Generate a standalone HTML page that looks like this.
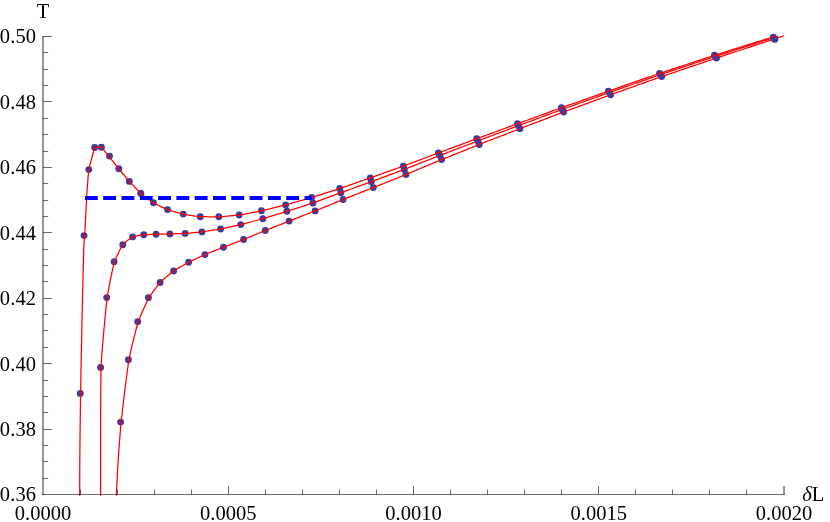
<!DOCTYPE html>
<html><head><meta charset="utf-8"><title>T vs δL</title>
<style>html,body{margin:0;padding:0;background:#fff;}body{width:830px;height:522px;overflow:hidden;position:relative;font-family:"Liberation Serif",serif;}</style></head>
<body>
<svg width="830" height="522" viewBox="0 0 830 522" style="display:block">
<rect width="830" height="522" fill="#fff"/>
<g fill="#3d3d99"><circle cx="120.60" cy="422.10" r="3.45"/><circle cx="128.40" cy="359.80" r="3.45"/><circle cx="137.70" cy="321.80" r="3.45"/><circle cx="148.40" cy="297.70" r="3.45"/><circle cx="160.10" cy="282.50" r="3.45"/><circle cx="173.60" cy="271.00" r="3.45"/><circle cx="188.60" cy="262.30" r="3.45"/><circle cx="204.90" cy="254.60" r="3.45"/><circle cx="223.50" cy="247.20" r="3.45"/><circle cx="243.60" cy="239.50" r="3.45"/><circle cx="265.30" cy="230.50" r="3.45"/><circle cx="289.10" cy="221.10" r="3.45"/><circle cx="315.10" cy="210.90" r="3.45"/><circle cx="343.10" cy="199.50" r="3.45"/><circle cx="373.30" cy="187.60" r="3.45"/><circle cx="406.00" cy="174.50" r="3.45"/><circle cx="441.60" cy="159.61" r="3.45"/><circle cx="479.20" cy="144.54" r="3.45"/><circle cx="519.90" cy="128.67" r="3.45"/><circle cx="563.60" cy="112.03" r="3.45"/><circle cx="610.60" cy="94.83" r="3.45"/><circle cx="661.70" cy="76.62" r="3.45"/><circle cx="716.50" cy="58.01" r="3.45"/><circle cx="774.80" cy="39.40" r="3.45"/></g>
<path d="M116.30,495.80 L116.42,493.36 L116.54,490.93 L116.66,488.52 L116.78,486.13 L116.90,483.74 L117.02,481.38 L117.15,479.02 L117.27,476.68 L117.39,474.36 L117.52,472.05 L117.64,469.76 L117.77,467.48 L117.89,465.22 L118.02,462.97 L118.14,460.74 L118.27,458.52 L118.30,458.00 L118.40,456.52 L118.54,454.58 L118.68,452.65 L118.82,450.73 L118.96,448.83 L119.11,446.94 L119.25,445.06 L119.39,443.21 L119.53,441.38 L119.67,439.57 L119.81,437.79 L119.94,436.03 L120.08,434.31 L120.10,434.00 L120.19,432.88 L120.30,431.57 L120.40,430.31 L120.51,429.07 L120.61,427.84 L120.71,426.59 L120.82,425.31 L120.94,423.96 L121.06,422.55 L121.10,422.10 L121.30,420.38 L121.59,417.83 L121.90,415.16 L122.22,412.40 L122.55,409.55 L122.89,406.62 L123.25,403.63 L123.61,400.58 L123.98,397.48 L124.36,394.35 L124.75,391.19 L125.14,388.01 L125.54,384.83 L125.94,381.66 L126.35,378.49 L126.76,375.36 L127.17,372.25 L127.58,369.20 L127.99,366.19 L128.40,363.26 L128.81,360.40 L128.90,359.80 L129.31,357.89 L129.83,355.48 L130.36,353.08 L130.89,350.70 L131.43,348.34 L131.98,345.98 L132.53,343.65 L133.09,341.33 L133.66,339.03 L134.23,336.74 L134.81,334.47 L135.39,332.21 L135.97,329.97 L136.57,327.75 L137.16,325.55 L137.77,323.36 L138.20,321.80 L138.41,321.27 L139.15,319.40 L139.90,317.55 L140.66,315.70 L141.43,313.88 L142.21,312.06 L143.00,310.26 L143.79,308.48 L144.59,306.71 L145.40,304.96 L146.21,303.23 L147.03,301.52 L147.85,299.82 L148.68,298.15 L148.90,297.70 L149.58,296.67 L150.52,295.28 L151.47,293.91 L152.43,292.55 L153.39,291.21 L154.36,289.88 L155.34,288.56 L156.33,287.26 L157.33,285.97 L158.33,284.69 L159.35,283.42 L160.10,282.50 L160.41,282.21 L161.57,281.13 L162.75,280.05 L163.95,278.99 L165.15,277.93 L166.37,276.89 L167.59,275.85 L168.82,274.83 L170.06,273.82 L171.30,272.82 L172.54,271.83 L173.60,271.00 L173.80,270.87 L175.14,270.04 L176.48,269.22 L177.83,268.41 L179.19,267.61 L180.55,266.82 L181.92,266.04 L183.30,265.26 L184.68,264.48 L186.06,263.71 L187.44,262.94 L188.60,262.30 L188.83,262.19 L190.27,261.48 L191.71,260.78 L193.15,260.08 L194.60,259.39 L196.05,258.70 L197.50,258.02 L198.96,257.33 L200.42,256.65 L201.89,255.98 L203.36,255.30 L204.84,254.63 L204.90,254.60 L206.38,253.99 L207.94,253.36 L209.50,252.72 L211.07,252.10 L212.64,251.47 L214.22,250.85 L215.80,250.22 L217.39,249.60 L218.97,248.98 L220.56,248.36 L222.15,247.73 L223.50,247.20 L223.74,247.11 L225.37,246.48 L227.00,245.85 L228.64,245.23 L230.28,244.61 L231.91,243.98 L233.56,243.36 L235.20,242.73 L236.85,242.10 L238.49,241.47 L240.14,240.84 L241.79,240.20 L243.45,239.56 L243.60,239.50 L245.13,238.88 L246.81,238.18 L248.50,237.49 L250.19,236.78 L251.88,236.08 L253.57,235.37 L255.27,234.67 L256.97,233.96 L258.67,233.25 L260.37,232.54 L262.08,231.83 L263.79,231.12 L265.30,230.50 L265.51,230.42 L267.27,229.71 L269.04,229.01 L270.81,228.31 L272.58,227.61 L274.36,226.90 L276.14,226.20 L277.93,225.50 L279.71,224.80 L281.50,224.09 L283.29,223.39 L285.09,222.68 L286.88,221.97 L288.68,221.27 L289.10,221.10 L290.52,220.54 L292.37,219.82 L294.22,219.09 L296.08,218.37 L297.93,217.64 L299.79,216.91 L301.66,216.18 L303.52,215.45 L305.39,214.72 L307.26,213.99 L309.14,213.25 L311.01,212.51 L312.89,211.77 L314.76,211.03 L315.10,210.90 L316.67,210.26 L318.59,209.49 L320.51,208.71 L322.43,207.93 L324.35,207.14 L326.28,206.35 L328.20,205.57 L330.13,204.78 L332.07,203.99 L334.00,203.20 L335.94,202.41 L337.87,201.62 L339.82,200.83 L341.76,200.04 L343.10,199.50 L343.72,199.25 L345.71,198.46 L347.71,197.68 L349.70,196.89 L351.70,196.10 L353.71,195.31 L355.71,194.52 L357.72,193.73 L359.73,192.94 L361.74,192.15 L363.75,191.36 L365.77,190.57 L367.79,189.77 L369.81,188.98 L371.83,188.18 L373.30,187.60 L373.87,187.37 L375.94,186.55 L378.02,185.72 L380.09,184.89 L382.17,184.06 L384.25,183.23 L386.33,182.40 L388.42,181.56 L390.51,180.73 L392.60,179.89 L394.69,179.05 L396.78,178.21 L398.88,177.37 L400.98,176.53 L403.08,175.68 L405.19,174.83 L406.00,174.50 L407.32,173.95 L409.48,173.06 L411.64,172.16 L413.80,171.25 L415.96,170.35 L418.13,169.44 L420.29,168.53 L422.46,167.62 L424.64,166.70 L426.81,165.79 L428.99,164.88 L431.17,163.96 L433.35,163.05 L435.53,162.14 L437.71,161.23 L439.90,160.32 L441.60,159.61 L442.09,159.41 L444.32,158.51 L446.54,157.62 L448.77,156.72 L451.00,155.82 L453.23,154.92 L455.46,154.03 L457.69,153.13 L459.93,152.24 L462.17,151.34 L464.41,150.45 L466.65,149.55 L468.89,148.65 L471.14,147.76 L473.39,146.86 L475.65,145.96 L477.90,145.06 L479.20,144.54 L480.18,144.16 L482.50,143.25 L484.81,142.34 L487.13,141.44 L489.46,140.53 L491.78,139.62 L494.11,138.71 L496.44,137.80 L498.77,136.89 L501.10,135.98 L503.44,135.07 L505.78,134.16 L508.12,133.25 L510.47,132.34 L512.81,131.42 L515.16,130.51 L517.51,129.60 L519.86,128.69 L519.90,128.67 L522.26,127.77 L524.67,126.85 L527.07,125.93 L529.48,125.00 L531.89,124.08 L534.31,123.16 L536.72,122.24 L539.14,121.32 L541.56,120.39 L543.98,119.47 L546.41,118.55 L548.84,117.62 L551.26,116.70 L553.70,115.78 L556.13,114.85 L558.57,113.93 L561.01,113.01 L563.45,112.09 L563.60,112.03 L565.94,111.17 L568.44,110.25 L570.94,109.32 L573.44,108.40 L575.95,107.48 L578.46,106.56 L580.97,105.64 L583.48,104.72 L585.99,103.80 L588.51,102.88 L591.03,101.96 L593.55,101.04 L596.08,100.12 L598.60,99.20 L601.13,98.28 L603.67,97.35 L606.20,96.43 L608.74,95.51 L610.60,94.83 L611.30,94.58 L613.90,93.65 L616.51,92.71 L619.12,91.77 L621.74,90.84 L624.36,89.90 L626.98,88.96 L629.60,88.03 L632.22,87.09 L634.85,86.15 L637.48,85.21 L640.11,84.27 L642.75,83.33 L645.38,82.39 L648.02,81.46 L650.67,80.52 L653.31,79.58 L655.96,78.64 L658.60,77.71 L661.25,76.77 L661.70,76.62 L663.95,75.84 L666.66,74.91 L669.37,73.99 L672.09,73.06 L674.81,72.13 L677.53,71.20 L680.25,70.28 L682.97,69.35 L685.70,68.42 L688.43,67.50 L691.16,66.57 L693.89,65.65 L696.63,64.72 L699.37,63.79 L702.11,62.87 L704.85,61.94 L707.59,61.02 L710.33,60.09 L713.08,59.16 L715.83,58.24 L716.50,58.01 L718.63,57.31 L721.50,56.36 L724.42,55.40 L727.38,54.43 L730.36,53.45 L733.37,52.46 L736.38,51.47 L739.40,50.48 L742.42,49.50 L745.42,48.51 L748.39,47.54 L751.34,46.58 L754.24,45.62 L757.10,44.69 L759.90,43.77 L762.63,42.88 L765.29,42.01 L767.86,41.16 L770.34,40.35 L772.72,39.57 L774.80,38.88 L774.91,38.85 L776.16,38.43 L777.38,38.02 L778.56,37.63 L779.69,37.25 L780.78,36.88 L781.81,36.54 L782.79,36.21 L783.70,35.90" fill="none" stroke="#ff0000" stroke-width="1.25" stroke-linejoin="round"/>
<g fill="#3d3d99"><circle cx="100.60" cy="367.50" r="3.45"/><circle cx="106.70" cy="297.60" r="3.45"/><circle cx="114.10" cy="261.70" r="3.45"/><circle cx="122.80" cy="244.70" r="3.45"/><circle cx="132.60" cy="236.90" r="3.45"/><circle cx="143.80" cy="234.80" r="3.45"/><circle cx="156.10" cy="234.20" r="3.45"/><circle cx="169.90" cy="233.90" r="3.45"/><circle cx="185.10" cy="233.40" r="3.45"/><circle cx="201.90" cy="231.90" r="3.45"/><circle cx="220.60" cy="229.00" r="3.45"/><circle cx="240.70" cy="224.60" r="3.45"/><circle cx="262.80" cy="218.70" r="3.45"/><circle cx="286.90" cy="211.30" r="3.45"/><circle cx="312.90" cy="203.00" r="3.45"/><circle cx="340.90" cy="192.70" r="3.45"/><circle cx="371.30" cy="181.70" r="3.45"/><circle cx="404.30" cy="169.40" r="3.45"/><circle cx="439.88" cy="155.47" r="3.45"/><circle cx="477.88" cy="140.94" r="3.45"/><circle cx="518.56" cy="125.63" r="3.45"/><circle cx="562.38" cy="109.38" r="3.45"/><circle cx="609.38" cy="92.54" r="3.45"/><circle cx="660.50" cy="74.62" r="3.45"/><circle cx="715.39" cy="56.33" r="3.45"/><circle cx="774.00" cy="38.35" r="3.45"/></g>
<path d="M100.60,495.80 L100.60,492.71 L100.60,489.63 L100.60,486.57 L100.60,483.52 L100.60,480.47 L100.60,477.44 L100.60,474.43 L100.60,471.42 L100.60,468.43 L100.60,465.44 L100.60,462.47 L100.60,459.52 L100.60,456.57 L100.60,453.64 L100.60,450.72 L100.60,447.81 L100.60,444.91 L100.60,442.03 L100.60,440.00 L100.60,439.23 L100.60,436.62 L100.61,434.03 L100.61,431.46 L100.62,428.89 L100.62,426.34 L100.63,423.80 L100.64,421.27 L100.64,418.75 L100.65,416.24 L100.66,413.74 L100.67,411.25 L100.67,408.76 L100.68,406.28 L100.69,403.81 L100.70,401.34 L100.70,400.00 L100.71,398.94 L100.72,396.64 L100.74,394.38 L100.76,392.14 L100.78,389.91 L100.79,387.70 L100.81,385.48 L100.83,383.27 L100.86,381.04 L100.88,378.79 L100.90,376.52 L100.93,374.22 L100.95,371.88 L100.98,369.49 L101.00,367.50 L101.03,366.95 L101.22,363.86 L101.43,360.70 L101.65,357.47 L101.89,354.18 L102.14,350.85 L102.40,347.47 L102.68,344.06 L102.96,340.62 L103.26,337.16 L103.56,333.70 L103.87,330.22 L104.19,326.75 L104.52,323.30 L104.84,319.86 L105.18,316.45 L105.51,313.07 L105.84,309.74 L106.18,306.45 L106.51,303.22 L106.84,300.06 L107.10,297.60 L107.19,297.08 L107.63,294.55 L108.08,292.04 L108.53,289.55 L108.99,287.08 L109.46,284.62 L109.94,282.20 L110.42,279.79 L110.91,277.41 L111.41,275.06 L111.91,272.73 L112.42,270.44 L112.93,268.18 L113.46,265.95 L113.99,263.76 L114.50,261.70 L114.53,261.62 L115.23,259.93 L115.94,258.26 L116.67,256.61 L117.41,254.98 L118.16,253.38 L118.92,251.80 L119.70,250.26 L120.49,248.76 L121.29,247.29 L122.10,245.87 L122.80,244.70 L122.96,244.55 L123.99,243.56 L125.05,242.59 L126.14,241.62 L127.24,240.69 L128.36,239.79 L129.50,238.93 L130.64,238.13 L131.79,237.38 L132.60,236.90 L132.97,236.81 L134.26,236.51 L135.56,236.23 L136.88,235.96 L138.21,235.70 L139.55,235.46 L140.90,235.24 L142.24,235.03 L143.58,234.83 L143.80,234.80 L144.96,234.73 L146.35,234.65 L147.74,234.58 L149.14,234.51 L150.53,234.44 L151.94,234.38 L153.35,234.31 L154.76,234.25 L156.10,234.20 L156.18,234.20 L157.64,234.16 L159.11,234.13 L160.59,234.10 L162.07,234.07 L163.55,234.04 L165.04,234.01 L166.53,233.97 L168.03,233.94 L169.52,233.91 L169.90,233.90 L171.05,233.87 L172.60,233.82 L174.14,233.77 L175.70,233.73 L177.25,233.68 L178.81,233.63 L180.37,233.57 L181.93,233.52 L183.50,233.46 L185.07,233.40 L185.10,233.40 L186.69,233.28 L188.31,233.16 L189.93,233.02 L191.56,232.88 L193.19,232.74 L194.83,232.59 L196.47,232.43 L198.11,232.27 L199.75,232.11 L201.40,231.95 L201.90,231.90 L203.09,231.74 L204.79,231.50 L206.50,231.25 L208.21,230.99 L209.92,230.73 L211.64,230.46 L213.36,230.19 L215.09,229.91 L216.81,229.63 L218.54,229.34 L220.26,229.06 L220.60,229.00 L222.02,228.71 L223.78,228.35 L225.54,227.98 L227.30,227.60 L229.07,227.21 L230.83,226.83 L232.60,226.43 L234.38,226.04 L236.15,225.64 L237.93,225.23 L239.71,224.83 L240.70,224.60 L241.52,224.39 L243.35,223.92 L245.18,223.44 L247.02,222.96 L248.86,222.48 L250.70,221.99 L252.55,221.49 L254.40,220.99 L256.25,220.49 L258.10,219.99 L259.96,219.48 L261.82,218.97 L262.80,218.70 L263.70,218.43 L265.60,217.86 L267.50,217.29 L269.41,216.71 L271.32,216.12 L273.24,215.53 L275.15,214.94 L277.07,214.35 L278.99,213.75 L280.92,213.16 L282.84,212.56 L284.77,211.96 L286.70,211.36 L286.90,211.30 L288.67,210.74 L290.65,210.12 L292.62,209.49 L294.60,208.87 L296.59,208.24 L298.57,207.61 L300.56,206.98 L302.55,206.35 L304.54,205.71 L306.54,205.07 L308.53,204.43 L310.53,203.78 L312.53,203.12 L312.90,203.00 L314.56,202.41 L316.59,201.67 L318.63,200.93 L320.67,200.19 L322.71,199.44 L324.75,198.68 L326.80,197.92 L328.84,197.16 L330.89,196.40 L332.95,195.64 L335.00,194.88 L337.06,194.11 L339.12,193.35 L340.90,192.70 L341.19,192.59 L343.31,191.83 L345.43,191.06 L347.55,190.29 L349.68,189.52 L351.81,188.75 L353.94,187.98 L356.07,187.21 L358.21,186.44 L360.35,185.67 L362.49,184.90 L364.64,184.12 L366.78,183.34 L368.93,182.56 L371.09,181.78 L371.30,181.70 L373.28,180.97 L375.49,180.15 L377.70,179.33 L379.91,178.51 L382.12,177.69 L384.34,176.87 L386.56,176.04 L388.78,175.21 L391.00,174.38 L393.23,173.55 L395.45,172.72 L397.69,171.89 L399.92,171.05 L402.15,170.21 L404.30,169.40 L404.39,169.36 L406.67,168.48 L408.96,167.59 L411.24,166.70 L413.53,165.80 L415.82,164.90 L418.12,164.00 L420.41,163.10 L422.71,162.20 L425.01,161.29 L427.31,160.39 L429.62,159.48 L431.93,158.58 L434.24,157.67 L436.55,156.77 L438.86,155.86 L439.88,155.47 L441.20,154.96 L443.57,154.05 L445.93,153.14 L448.30,152.23 L450.67,151.33 L453.04,150.42 L455.42,149.51 L457.79,148.60 L460.17,147.69 L462.56,146.78 L464.94,145.87 L467.33,144.96 L469.72,144.05 L472.11,143.14 L474.50,142.23 L476.90,141.31 L477.88,140.94 L479.32,140.40 L481.77,139.47 L484.22,138.55 L486.67,137.62 L489.12,136.70 L491.58,135.77 L494.04,134.85 L496.50,133.92 L498.96,132.99 L501.43,132.06 L503.90,131.14 L506.37,130.21 L508.84,129.28 L511.32,128.35 L513.80,127.42 L516.28,126.48 L518.56,125.63 L518.77,125.55 L521.30,124.61 L523.85,123.66 L526.39,122.71 L528.94,121.77 L531.49,120.82 L534.04,119.87 L536.59,118.92 L539.15,117.97 L541.71,117.02 L544.27,116.07 L546.84,115.12 L549.41,114.17 L551.98,113.22 L554.55,112.27 L557.12,111.32 L559.70,110.37 L562.28,109.42 L562.38,109.38 L564.91,108.46 L567.55,107.51 L570.19,106.56 L572.83,105.61 L575.48,104.66 L578.12,103.71 L580.77,102.76 L583.42,101.81 L586.08,100.86 L588.74,99.91 L591.40,98.96 L594.06,98.01 L596.72,97.06 L599.39,96.11 L602.07,95.15 L604.74,94.20 L607.42,93.24 L609.38,92.54 L610.12,92.28 L612.87,91.32 L615.62,90.35 L618.37,89.37 L621.13,88.40 L623.89,87.43 L626.66,86.46 L629.43,85.48 L632.20,84.51 L634.97,83.53 L637.75,82.56 L640.52,81.58 L643.31,80.61 L646.09,79.63 L648.88,78.66 L651.67,77.69 L654.46,76.72 L657.25,75.74 L660.05,74.77 L660.50,74.62 L662.89,73.81 L665.76,72.85 L668.62,71.88 L671.49,70.92 L674.35,69.96 L677.23,69.00 L680.10,68.04 L682.98,67.08 L685.86,66.12 L688.74,65.16 L691.62,64.20 L694.51,63.24 L697.40,62.28 L700.29,61.32 L703.18,60.36 L706.08,59.40 L708.98,58.44 L711.88,57.49 L714.78,56.53 L715.39,56.33 L717.76,55.56 L720.82,54.58 L723.95,53.57 L727.14,52.55 L730.36,51.52 L733.61,50.48 L736.88,49.44 L740.14,48.40 L743.38,47.37 L746.60,46.34 L749.78,45.33 L752.90,44.34 L755.96,43.37 L758.93,42.42 L761.81,41.50 L764.58,40.62 L767.23,39.78 L769.74,38.97 L772.10,38.22 L773.97,37.62 L774.12,37.57 L775.02,37.28 L775.87,37.00 L776.66,36.74 L777.38,36.51 L778.00,36.30" fill="none" stroke="#ff0000" stroke-width="1.25" stroke-linejoin="round"/>
<g fill="#3d3d99"><circle cx="80.30" cy="393.40" r="3.45"/><circle cx="84.05" cy="235.60" r="3.45"/><circle cx="88.80" cy="169.60" r="3.45"/><circle cx="94.70" cy="147.50" r="3.45"/><circle cx="101.40" cy="147.20" r="3.45"/><circle cx="109.50" cy="156.10" r="3.45"/><circle cx="118.80" cy="168.80" r="3.45"/><circle cx="129.30" cy="181.40" r="3.45"/><circle cx="140.70" cy="193.20" r="3.45"/><circle cx="153.40" cy="202.80" r="3.45"/><circle cx="167.50" cy="209.60" r="3.45"/><circle cx="183.20" cy="214.10" r="3.45"/><circle cx="200.20" cy="216.70" r="3.45"/><circle cx="218.80" cy="216.80" r="3.45"/><circle cx="239.20" cy="215.00" r="3.45"/><circle cx="261.40" cy="210.80" r="3.45"/><circle cx="285.60" cy="204.90" r="3.45"/><circle cx="311.60" cy="197.40" r="3.45"/><circle cx="339.70" cy="188.50" r="3.45"/><circle cx="370.30" cy="177.90" r="3.45"/><circle cx="403.30" cy="166.10" r="3.45"/><circle cx="438.47" cy="152.89" r="3.45"/><circle cx="476.80" cy="138.70" r="3.45"/><circle cx="517.47" cy="123.75" r="3.45"/><circle cx="561.38" cy="107.75" r="3.45"/><circle cx="608.38" cy="91.15" r="3.45"/><circle cx="659.52" cy="73.40" r="3.45"/><circle cx="714.48" cy="55.30" r="3.45"/><circle cx="773.30" cy="37.25" r="3.45"/></g>
<path d="M79.70,495.80 L79.71,492.17 L79.71,488.49 L79.72,484.76 L79.73,480.99 L79.74,477.17 L79.75,473.31 L79.76,469.40 L79.78,465.44 L79.79,461.44 L79.80,458.00 L79.81,457.31 L79.85,452.49 L79.90,447.52 L79.96,442.43 L80.02,437.26 L80.09,432.03 L80.15,426.79 L80.22,421.55 L80.29,416.36 L80.36,411.25 L80.43,406.25 L80.49,401.39 L80.56,396.71 L80.60,393.40 L80.61,392.53 L80.67,389.37 L80.72,386.37 L80.76,383.48 L80.81,380.61 L80.86,377.72 L80.92,374.74 L80.97,371.60 L81.00,370.00 L81.05,367.61 L81.14,362.80 L81.24,357.79 L81.35,352.62 L81.46,347.33 L81.57,341.92 L81.68,336.45 L81.80,330.93 L81.91,325.39 L82.03,319.87 L82.15,314.38 L82.26,308.96 L82.38,303.64 L82.49,298.45 L82.50,298.00 L82.61,293.68 L82.72,288.88 L82.84,284.04 L82.96,279.19 L83.07,274.37 L83.19,269.61 L83.31,264.94 L83.43,260.40 L83.55,256.01 L83.68,251.82 L83.80,247.84 L83.90,245.00 L83.94,244.47 L84.09,242.47 L84.25,240.64 L84.41,238.85 L84.58,236.96 L84.70,235.50 L84.76,234.52 L84.95,230.99 L85.15,227.23 L85.35,223.28 L85.56,219.19 L85.77,215.02 L85.97,210.82 L86.18,206.63 L86.40,202.51 L86.61,198.50 L86.80,195.00 L86.82,194.71 L87.05,191.43 L87.28,188.20 L87.51,185.00 L87.75,181.84 L87.98,178.72 L88.22,175.64 L88.46,172.60 L88.70,169.60 L94.60,147.50 L101.50,147.10 L118.70,168.60 L118.70,168.60 L119.48,169.58 L120.27,170.55 L121.06,171.52 L121.85,172.49 L122.64,173.46 L123.43,174.42 L124.23,175.39 L125.03,176.35 L125.83,177.30 L126.63,178.26 L127.44,179.21 L128.24,180.16 L129.05,181.11 L129.30,181.40 L129.89,182.03 L130.74,182.94 L131.59,183.85 L132.44,184.75 L133.29,185.66 L134.15,186.56 L135.01,187.46 L135.87,188.36 L136.73,189.25 L137.60,190.14 L138.48,191.01 L139.35,191.89 L140.23,192.75 L140.70,193.20 L141.15,193.56 L142.10,194.33 L143.06,195.10 L144.02,195.86 L144.99,196.61 L145.96,197.37 L146.93,198.11 L147.91,198.85 L148.89,199.59 L149.87,200.31 L150.86,201.02 L151.85,201.73 L152.85,202.42 L153.40,202.80 L153.88,203.05 L154.95,203.62 L156.02,204.17 L157.10,204.72 L158.19,205.27 L159.27,205.81 L160.36,206.34 L161.46,206.87 L162.56,207.39 L163.66,207.90 L164.77,208.40 L165.87,208.89 L166.98,209.38 L167.50,209.60 L168.13,209.80 L169.30,210.17 L170.48,210.54 L171.66,210.90 L172.84,211.26 L174.03,211.61 L175.22,211.95 L176.41,212.30 L177.61,212.63 L178.81,212.96 L180.01,213.28 L181.21,213.60 L182.41,213.90 L183.20,214.10 L183.63,214.18 L184.87,214.39 L186.12,214.62 L187.36,214.84 L188.61,215.06 L189.87,215.28 L191.12,215.49 L192.38,215.69 L193.64,215.89 L194.90,216.08 L196.16,216.25 L197.42,216.41 L198.69,216.55 L199.96,216.68 L200.20,216.70 L201.26,216.71 L202.57,216.72 L203.88,216.73 L205.19,216.74 L206.51,216.74 L207.83,216.75 L209.15,216.76 L210.47,216.77 L211.80,216.77 L213.12,216.78 L214.45,216.78 L215.78,216.79 L217.11,216.79 L218.45,216.80 L218.80,216.80 L219.80,216.75 L221.17,216.67 L222.55,216.57 L223.92,216.47 L225.30,216.36 L226.68,216.25 L228.05,216.12 L229.44,215.99 L230.82,215.86 L232.20,215.72 L233.59,215.58 L234.98,215.44 L236.37,215.29 L237.76,215.15 L239.15,215.01 L239.20,215.00 L240.57,214.78 L241.99,214.54 L243.41,214.30 L244.84,214.04 L246.26,213.78 L247.69,213.52 L249.12,213.24 L250.55,212.97 L251.98,212.69 L253.42,212.40 L254.85,212.12 L256.29,211.83 L257.72,211.54 L259.16,211.25 L260.61,210.96 L261.40,210.80 L262.06,210.65 L263.54,210.31 L265.01,209.96 L266.49,209.61 L267.97,209.26 L269.45,208.90 L270.94,208.54 L272.42,208.18 L273.91,207.82 L275.39,207.45 L276.88,207.09 L278.37,206.72 L279.86,206.34 L281.36,205.97 L282.85,205.59 L284.34,205.22 L285.60,204.90 L285.84,204.83 L287.36,204.41 L288.89,203.98 L290.41,203.55 L291.94,203.12 L293.46,202.68 L294.99,202.25 L296.52,201.81 L298.05,201.36 L299.58,200.92 L301.11,200.48 L302.65,200.03 L304.18,199.58 L305.72,199.13 L307.26,198.68 L308.80,198.23 L310.34,197.77 L311.60,197.40 L311.88,197.31 L313.46,196.82 L315.03,196.33 L316.61,195.84 L318.19,195.35 L319.77,194.85 L321.35,194.35 L322.93,193.86 L324.52,193.35 L326.10,192.85 L327.69,192.35 L329.28,191.84 L330.87,191.34 L332.46,190.83 L334.05,190.32 L335.64,189.81 L337.24,189.29 L338.84,188.78 L339.70,188.50 L340.45,188.24 L342.09,187.69 L343.72,187.13 L345.36,186.57 L347.00,186.00 L348.64,185.44 L350.29,184.87 L351.93,184.30 L353.58,183.73 L355.22,183.16 L356.87,182.59 L358.52,182.01 L360.17,181.43 L361.83,180.86 L363.48,180.28 L365.14,179.70 L366.79,179.12 L368.45,178.54 L370.11,177.97 L370.30,177.90 L371.80,177.37 L373.50,176.76 L375.20,176.16 L376.90,175.56 L378.60,174.95 L380.30,174.34 L382.00,173.74 L383.71,173.13 L385.42,172.52 L387.13,171.91 L388.84,171.30 L390.55,170.69 L392.26,170.07 L393.97,169.46 L395.68,168.84 L397.40,168.23 L399.12,167.61 L400.83,166.99 L402.55,166.37 L403.30,166.10 L404.29,165.73 L406.03,165.08 L407.78,164.43 L409.53,163.78 L411.28,163.12 L413.03,162.46 L414.78,161.81 L416.53,161.15 L418.29,160.49 L420.04,159.83 L421.80,159.16 L423.56,158.50 L425.32,157.84 L427.08,157.17 L428.84,156.51 L430.61,155.84 L432.37,155.18 L434.14,154.51 L435.91,153.85 L437.69,153.18 L438.47,152.89 L439.49,152.51 L441.31,151.84 L443.13,151.16 L444.96,150.48 L446.78,149.81 L448.61,149.13 L450.44,148.45 L452.28,147.77 L454.11,147.09 L455.95,146.41 L457.79,145.73 L459.63,145.05 L461.47,144.37 L463.31,143.69 L465.15,143.01 L467.00,142.32 L468.84,141.64 L470.69,140.96 L472.53,140.28 L474.38,139.59 L476.23,138.91 L476.80,138.70 L478.10,138.22 L479.98,137.53 L481.87,136.84 L483.75,136.14 L485.63,135.45 L487.52,134.76 L489.40,134.06 L491.29,133.37 L493.18,132.67 L495.07,131.98 L496.96,131.28 L498.85,130.59 L500.75,129.89 L502.64,129.19 L504.54,128.50 L506.44,127.80 L508.34,127.10 L510.24,126.40 L512.14,125.70 L514.05,125.00 L515.96,124.31 L517.47,123.75 L517.87,123.60 L519.83,122.89 L521.78,122.18 L523.74,121.46 L525.69,120.75 L527.65,120.03 L529.61,119.32 L531.57,118.60 L533.53,117.88 L535.50,117.16 L537.47,116.45 L539.43,115.73 L541.40,115.01 L543.37,114.29 L545.34,113.57 L547.32,112.86 L549.29,112.14 L551.27,111.42 L553.25,110.70 L555.23,109.98 L557.21,109.26 L559.19,108.54 L561.17,107.83 L561.38,107.75 L563.19,107.11 L565.21,106.39 L567.24,105.67 L569.27,104.95 L571.30,104.23 L573.33,103.51 L575.36,102.79 L577.39,102.07 L579.42,101.35 L581.46,100.63 L583.50,99.92 L585.54,99.20 L587.58,98.48 L589.62,97.76 L591.66,97.04 L593.71,96.32 L595.75,95.59 L597.80,94.87 L599.85,94.15 L601.90,93.43 L603.96,92.71 L606.02,91.98 L608.07,91.26 L608.38,91.15 L610.18,90.52 L612.29,89.79 L614.40,89.05 L616.51,88.31 L618.63,87.58 L620.75,86.84 L622.87,86.10 L624.99,85.36 L627.12,84.62 L629.24,83.88 L631.37,83.14 L633.50,82.40 L635.63,81.66 L637.76,80.92 L639.90,80.17 L642.03,79.43 L644.17,78.69 L646.31,77.95 L648.45,77.21 L650.59,76.47 L652.73,75.73 L654.88,75.00 L657.02,74.26 L659.17,73.52 L659.52,73.40 L661.36,72.79 L663.55,72.06 L665.75,71.33 L667.95,70.60 L670.15,69.87 L672.36,69.13 L674.56,68.40 L676.77,67.68 L678.97,66.95 L681.18,66.22 L683.39,65.49 L685.61,64.76 L687.82,64.03 L690.04,63.30 L692.25,62.57 L694.47,61.84 L696.69,61.11 L698.91,60.39 L701.13,59.66 L703.36,58.93 L705.58,58.20 L707.81,57.48 L710.04,56.75 L712.27,56.02 L714.48,55.30 L714.50,55.29 L716.81,54.56 L719.17,53.82 L721.58,53.06 L724.04,52.28 L726.53,51.50 L729.04,50.71 L731.58,49.92 L734.13,49.12 L736.68,48.32 L739.23,47.53 L741.78,46.73 L744.30,45.95 L746.81,45.16 L749.28,44.39 L751.71,43.63 L754.10,42.89 L756.43,42.16 L758.71,41.45 L760.92,40.76 L763.05,40.09 L765.10,39.44 L767.06,38.83 L768.93,38.24 L770.69,37.68 L772.34,37.16 L773.30,36.85 L773.48,36.79 L773.93,36.63 L774.34,36.49 L774.70,36.36 L775.00,36.25" fill="none" stroke="#ff0000" stroke-width="1.25" stroke-linejoin="round"/>
<line x1="84.9" y1="198" x2="311.85" y2="198" stroke="#0000ff" stroke-width="4" stroke-dasharray="12.9 5.4"/>
<g stroke="#000" stroke-opacity="0.58" stroke-width="1" fill="none">
<line x1="43" y1="36.0" x2="43" y2="495.0" stroke-width="1.4"/>
<line x1="42" y1="494.5" x2="785.0" y2="494.5"/>
<line x1="43" y1="478.5" x2="48.2" y2="478.5"/>
<line x1="43" y1="461.5" x2="48.2" y2="461.5"/>
<line x1="43" y1="445.5" x2="48.2" y2="445.5"/>
<line x1="43" y1="429.5" x2="52.0" y2="429.5"/>
<line x1="43" y1="412.5" x2="48.2" y2="412.5"/>
<line x1="43" y1="396.5" x2="48.2" y2="396.5"/>
<line x1="43" y1="380.5" x2="48.2" y2="380.5"/>
<line x1="43" y1="363.5" x2="52.0" y2="363.5"/>
<line x1="43" y1="347.5" x2="48.2" y2="347.5"/>
<line x1="43" y1="330.5" x2="48.2" y2="330.5"/>
<line x1="43" y1="314.5" x2="48.2" y2="314.5"/>
<line x1="43" y1="298.5" x2="52.0" y2="298.5"/>
<line x1="43" y1="281.5" x2="48.2" y2="281.5"/>
<line x1="43" y1="265.5" x2="48.2" y2="265.5"/>
<line x1="43" y1="249.5" x2="48.2" y2="249.5"/>
<line x1="43" y1="232.5" x2="52.0" y2="232.5"/>
<line x1="43" y1="216.5" x2="48.2" y2="216.5"/>
<line x1="43" y1="200.5" x2="48.2" y2="200.5"/>
<line x1="43" y1="183.5" x2="48.2" y2="183.5"/>
<line x1="43" y1="167.5" x2="52.0" y2="167.5"/>
<line x1="43" y1="151.5" x2="48.2" y2="151.5"/>
<line x1="43" y1="134.5" x2="48.2" y2="134.5"/>
<line x1="43" y1="118.5" x2="48.2" y2="118.5"/>
<line x1="43" y1="101.5" x2="52.0" y2="101.5"/>
<line x1="43" y1="85.5" x2="48.2" y2="85.5"/>
<line x1="43" y1="69.5" x2="48.2" y2="69.5"/>
<line x1="43" y1="52.5" x2="48.2" y2="52.5"/>
<line x1="43" y1="36.5" x2="52.0" y2="36.5"/>
<line x1="80.5" y1="494.5" x2="80.5" y2="489.5"/>
<line x1="117.5" y1="494.5" x2="117.5" y2="489.5"/>
<line x1="154.5" y1="494.5" x2="154.5" y2="489.5"/>
<line x1="191.5" y1="494.5" x2="191.5" y2="489.5"/>
<line x1="228.5" y1="494.5" x2="228.5" y2="486.1"/>
<line x1="265.5" y1="494.5" x2="265.5" y2="489.5"/>
<line x1="302.5" y1="494.5" x2="302.5" y2="489.5"/>
<line x1="339.5" y1="494.5" x2="339.5" y2="489.5"/>
<line x1="376.5" y1="494.5" x2="376.5" y2="489.5"/>
<line x1="413.5" y1="494.5" x2="413.5" y2="486.1"/>
<line x1="450.5" y1="494.5" x2="450.5" y2="489.5"/>
<line x1="487.5" y1="494.5" x2="487.5" y2="489.5"/>
<line x1="524.5" y1="494.5" x2="524.5" y2="489.5"/>
<line x1="561.5" y1="494.5" x2="561.5" y2="489.5"/>
<line x1="598.5" y1="494.5" x2="598.5" y2="486.1"/>
<line x1="635.5" y1="494.5" x2="635.5" y2="489.5"/>
<line x1="672.5" y1="494.5" x2="672.5" y2="489.5"/>
<line x1="709.5" y1="494.5" x2="709.5" y2="489.5"/>
<line x1="746.5" y1="494.5" x2="746.5" y2="489.5"/>
<line x1="784.0" y1="494.5" x2="784.0" y2="486.1" stroke-width="1.4"/>
</g>
</svg>
<svg width="830" height="522" viewBox="0 0 830 522" style="position:absolute;left:0;top:0;will-change:transform">
<g font-family="'Liberation Serif', serif" font-size="20.5px" fill="#000">
<text x="36.3" y="501" text-anchor="end" letter-spacing="0.18">0.36</text>
<text x="36.3" y="436" text-anchor="end" letter-spacing="0.18">0.38</text>
<text x="36.3" y="371" text-anchor="end" letter-spacing="0.18">0.40</text>
<text x="36.3" y="305" text-anchor="end" letter-spacing="0.18">0.42</text>
<text x="36.3" y="240" text-anchor="end" letter-spacing="0.18">0.44</text>
<text x="36.3" y="174" text-anchor="end" letter-spacing="0.18">0.46</text>
<text x="36.3" y="109" text-anchor="end" letter-spacing="0.18">0.48</text>
<text x="36.3" y="43" text-anchor="end" letter-spacing="0.18">0.50</text>
<text x="42.95" y="519.9" text-anchor="middle">0.0000</text>
<text x="228.21" y="519.9" text-anchor="middle">0.0005</text>
<text x="413.47" y="519.9" text-anchor="middle">0.0010</text>
<text x="598.74" y="519.9" text-anchor="middle">0.0015</text>
<text x="784.00" y="519.9" text-anchor="middle">0.0020</text>
<text x="42.9" y="17.5" text-anchor="middle">T</text>
<text x="802.2" y="501.3"><tspan font-style="italic">δ</tspan>L</text>
</g>
</svg>
</body></html>
